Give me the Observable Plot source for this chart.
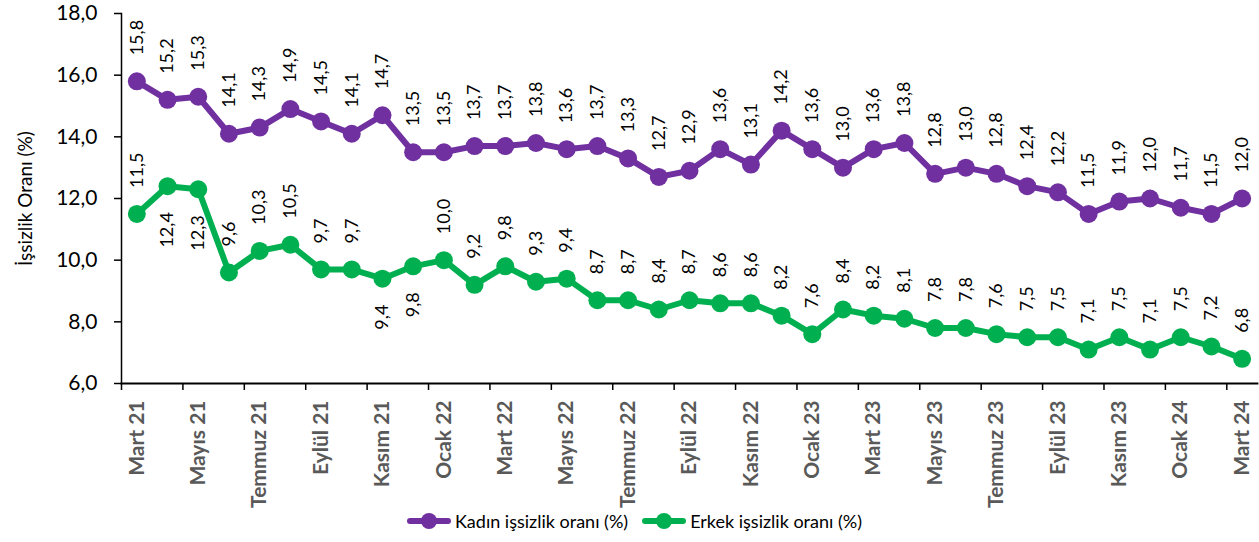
<!DOCTYPE html>
<html>
<head>
<meta charset="utf-8">
<script src="https://cdn.jsdelivr.net/npm/d3@7"></script>
<script src="https://cdn.jsdelivr.net/npm/@observablehq/plot@0.6"></script>
<style>
  html, body { margin: 0; padding: 0; background: #fff; }
  #wrap { position: relative; width: 1259px; height: 542px; font-family: Lato, "Open Sans", sans-serif; }
  #legend { position: absolute; left: 0; width: 1259px; top: 510px; display: flex; justify-content: center; gap: 14px; font-size: 18px; color: #000; padding-left: 10px; box-sizing: border-box; }
  .item { display: flex; align-items: center; gap: 4px; }
</style>
</head>
<body>
<div id="wrap"><div id="chart"></div><div id="legend"></div></div>
<script>
const months = ["Mart 21","Nisan 21","Mayıs 21","Haziran 21","Temmuz 21","Ağustos 21","Eylül 21","Ekim 21","Kasım 21","Aralık 21",
  "Ocak 22","Şubat 22","Mart 22","Nisan 22","Mayıs 22","Haziran 22","Temmuz 22","Ağustos 22","Eylül 22","Ekim 22","Kasım 22","Aralık 22",
  "Ocak 23","Şubat 23","Mart 23","Nisan 23","Mayıs 23","Haziran 23","Temmuz 23","Ağustos 23","Eylül 23","Ekim 23","Kasım 23","Aralık 23",
  "Ocak 24","Şubat 24","Mart 24"];
const kadin = [15.8,15.2,15.3,14.1,14.3,14.9,14.5,14.1,14.7,13.5,13.5,13.7,13.7,13.8,13.6,13.7,13.3,12.7,12.9,13.6,13.1,14.2,13.6,13.0,13.6,13.8,12.8,13.0,12.8,12.4,12.2,11.5,11.9,12.0,11.7,11.5,12.0];
const erkek = [11.5,12.4,12.3,9.6,10.3,10.5,9.7,9.7,9.4,9.8,10.0,9.2,9.8,9.3,9.4,8.7,8.7,8.4,8.7,8.6,8.6,8.2,7.6,8.4,8.2,8.1,7.8,7.8,7.6,7.5,7.5,7.1,7.5,7.1,7.5,7.2,6.8];
const erkekBelow = [1,2,8,9];
const yTicks = [6,8,10,12,14,16,18];
const seriesNames = ["Kadın işsizlik oranı (%)","Erkek işsizlik oranı (%)"];
const colors = ["#7030A0","#00B050"];
const yTitle = "İşsizlik Oranı (%)";

const fmt = v => v.toFixed(1).replace(".", ",");
const kData = kadin.map((v, i) => ({i, v}));
const eData = erkek.map((v, i) => ({i, v, below: erkekBelow.includes(i)}));
const labelIdx = months.map((m, i) => i).filter(i => i % 2 === 0);
const boundaries = months.map((m, i) => i - 0.5).filter((b, k) => k % 2 === 0);

const font = "Lato, 'Open Sans', sans-serif";
const chart = Plot.plot({
  width: 1259, height: 542,
  marginTop: 13, marginBottom: 159, marginLeft: 121, marginRight: 2,
  style: {fontFamily: font, background: "#fff", overflow: "visible"},
  x: {type: "linear", domain: [-0.5, months.length - 0.5]},
  y: {domain: [6, 18]},
  marks: [
    Plot.axisY({ticks: yTicks, tickSize: 7, tickPadding: 17, tickFormat: fmt, fontSize: 21, label: null, stroke: "#000", strokeWidth: 1.5, fill: "#000"}),
    Plot.axisY({ticks: [], label: yTitle, labelAnchor: "center", labelArrow: "none", labelOffset: 103, fontSize: 19, fill: "#000", dy: 48}),
    Plot.axisX({ticks: boundaries, tickSize: 7, tickFormat: () => "", label: null, stroke: "#000", strokeWidth: 1.5}),
    Plot.axisX({ticks: labelIdx, tickSize: 0, tickPadding: 17, tickRotate: -90, tickFormat: i => months[i], label: null, fontSize: 21, fontWeight: "bold", fill: "#595959"}),
    Plot.frame({anchor: "left", stroke: "#000", strokeWidth: 1.5}),
    Plot.frame({anchor: "bottom", stroke: "#000", strokeWidth: 1.8}),
    Plot.line(kData, {x: "i", y: "v", stroke: colors[0], strokeWidth: 6}),
    Plot.dot(kData, {x: "i", y: "v", r: 9, fill: colors[0]}),
    Plot.line(eData, {x: "i", y: "v", stroke: colors[1], strokeWidth: 6}),
    Plot.dot(eData, {x: "i", y: "v", r: 9, fill: colors[1]}),
    Plot.text(kData, {x: "i", y: "v", text: d => fmt(d.v), rotate: -90, textAnchor: "start", dy: -26, fontSize: 18, fill: "#000"}),
    Plot.text(eData.filter(d => !d.below), {x: "i", y: "v", text: d => fmt(d.v), rotate: -90, textAnchor: "start", dy: -26, fontSize: 18, fill: "#000"}),
    Plot.text(eData.filter(d => d.below), {x: "i", y: "v", text: d => fmt(d.v), rotate: -90, textAnchor: "end", dy: 26, fontSize: 18, fill: "#000"})
  ]
});
document.getElementById("chart").appendChild(chart);

const legend = document.getElementById("legend");
seriesNames.forEach((name, k) => {
  const item = document.createElement("div");
  item.className = "item";
  item.innerHTML = `<svg width="44" height="20"><line x1="3" x2="41" y1="10" y2="10" stroke="${colors[k]}" stroke-width="6" stroke-linecap="round"/><circle cx="22" cy="10" r="8" fill="${colors[k]}"/></svg><span>${name}</span>`;
  legend.appendChild(item);
});
</script>
</body>
</html>
